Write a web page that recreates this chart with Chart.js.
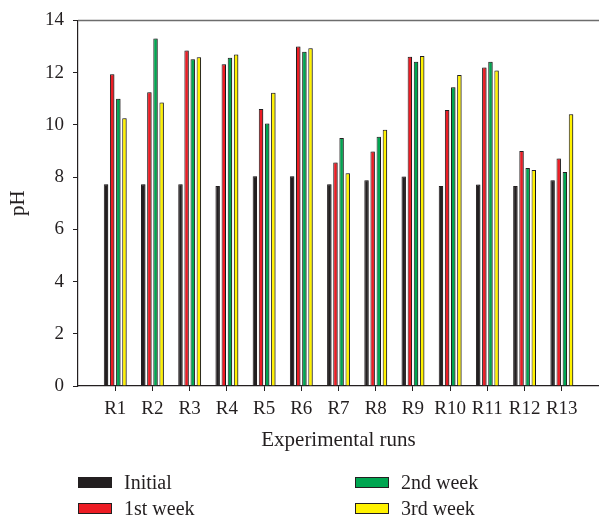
<!DOCTYPE html>
<html>
<head>
<meta charset="utf-8">
<script src="https://cdn.jsdelivr.net/npm/chart.js@4"></script>
<style>
  body { margin: 0; background: #fff; }
  #wrap { position: relative; width: 599px; height: 518px; }
  .legend-item { position: absolute; display: flex; align-items: center; font: 20px "Liberation Serif", serif; color: #231f20; }
  .legend-box { width: 32px; height: 9px; border: 1px solid #231f20; margin-right: 12px; }
</style>
</head>
<body>
<div id="wrap">
  <canvas id="phChart" width="599" height="518"></canvas>
</div>
<script>
// Experimental runs and pH readings
const runs = ['R1', 'R2', 'R3', 'R4', 'R5', 'R6', 'R7', 'R8', 'R9', 'R10', 'R11', 'R12', 'R13'];
const initial = [7.73, 7.73, 7.73, 7.66, 8.03, 8.03, 7.73, 7.88, 8.02, 7.66, 7.72, 7.66, 7.88];
const week1 = [11.94, 11.25, 12.85, 12.32, 10.61, 13.0, 8.56, 8.98, 12.61, 10.57, 12.2, 9.0, 8.71];
const week2 = [11.0, 13.31, 12.51, 12.57, 10.05, 12.8, 9.5, 9.54, 12.42, 11.44, 12.42, 8.35, 8.19];
const week3 = [10.25, 10.86, 12.59, 12.69, 11.23, 12.93, 8.15, 9.81, 12.64, 11.91, 12.08, 8.27, 10.41];
const yTicks = [0, 2, 4, 6, 8, 10, 12, 14];

const seriesNames = ['Initial', '1st week', '2nd week', '3rd week'];
const seriesColors = ['#231f20', '#ed1c24', '#00a651', '#fff200'];
const seriesValues = [initial, week1, week2, week3];

const SERIF = '"Liberation Serif", serif';
const INK = '#231f20';

function toPoints(vals) {
  return vals.map((v, i) => ({ x: i + 1, y: v }));
}

const datasets = seriesNames.map((name, k) => ({
  label: name,
  data: toPoints(seriesValues[k]),
  backgroundColor: seriesColors[k],
  borderColor: INK,
  borderWidth: 1,
  borderSkipped: 'bottom',
  categoryPercentage: 0.66,
  barPercentage: 0.72
}));

// soft grey shadow behind bars + grey frame line on top
const decor = {
  id: 'decor',
  beforeDatasetsDraw(chart) {
    const ctx = chart.ctx;
    ctx.save();
    ctx.shadowColor = 'rgba(0,0,0,0.35)';
    ctx.shadowOffsetX = 1.5;
    ctx.shadowOffsetY = 0;
    ctx.shadowBlur = 1;
  },
  afterDatasetsDraw(chart) {
    chart.ctx.restore();
  },
  afterDraw(chart) {
    const { ctx, chartArea } = chart;
    ctx.save();
    ctx.strokeStyle = '#6d6d6d';
    ctx.lineWidth = 1.5;
    ctx.beginPath();
    ctx.moveTo(chartArea.left, chartArea.top);
    ctx.lineTo(chartArea.right, chartArea.top);
    ctx.stroke();
    ctx.restore();
  }
};

new Chart(document.getElementById('phChart'), {
  type: 'bar',
  data: { datasets },
  options: {
    responsive: false,
    animation: false,
    layout: { padding: { top: 20, right: 0, bottom: 0, left: 0 } },
    plugins: {
      legend: { display: false },
      tooltip: { enabled: false }
    },
    scales: {
      x: {
        type: 'linear',
        offset: false,
        min: 0,
        max: 14,
        afterBuildTicks: s => {
          s.ticks = runs.map((r, i) => ({ value: i + 1 }));
        },
        afterFit: s => { s.height = 132; },
        ticks: {
          font: { family: SERIF, size: 19 },
          color: INK,
          padding: 7,
          maxRotation: 0,
          autoSkip: false,
          callback: v => runs[v - 1] || ''
        },
        grid: { offset: false, drawOnChartArea: false, tickLength: 5, color: INK, lineWidth: 1 },
        border: { color: INK, width: 1.2 },
        title: {
          display: true,
          text: 'Experimental runs',
          font: { family: SERIF, size: 21 },
          color: INK,
          padding: { top: 0, bottom: 65 }
        }
      },
      y: {
        min: 0,
        max: 14,
        afterBuildTicks: s => {
          s.ticks = yTicks.map(v => ({ value: v }));
        },
        afterFit: s => { s.width = 78; },
        ticks: { font: { family: SERIF, size: 19 }, color: INK, padding: 9 },
        grid: { drawOnChartArea: false, tickLength: 5, color: INK, lineWidth: 1 },
        border: { color: INK, width: 1.2 },
        title: {
          display: true,
          text: 'pH',
          font: { family: SERIF, size: 21 },
          color: INK,
          padding: { top: 6, bottom: 0 }
        }
      }
    }
  },
  plugins: [decor]
});

// two-column legend under the chart
const legendSpots = [[78, 482], [78, 508], [355, 482], [355, 508]];
const wrap = document.getElementById('wrap');
seriesNames.forEach((name, k) => {
  const item = document.createElement('div');
  item.className = 'legend-item';
  item.style.left = legendSpots[k][0] + 'px';
  item.style.top = (legendSpots[k][1] - 11) + 'px';
  item.style.height = '22px';
  item.innerHTML = `<span class="legend-box" style="background:${seriesColors[k]}"></span><span>${name}</span>`;
  wrap.appendChild(item);
});
</script>
</body>
</html>
